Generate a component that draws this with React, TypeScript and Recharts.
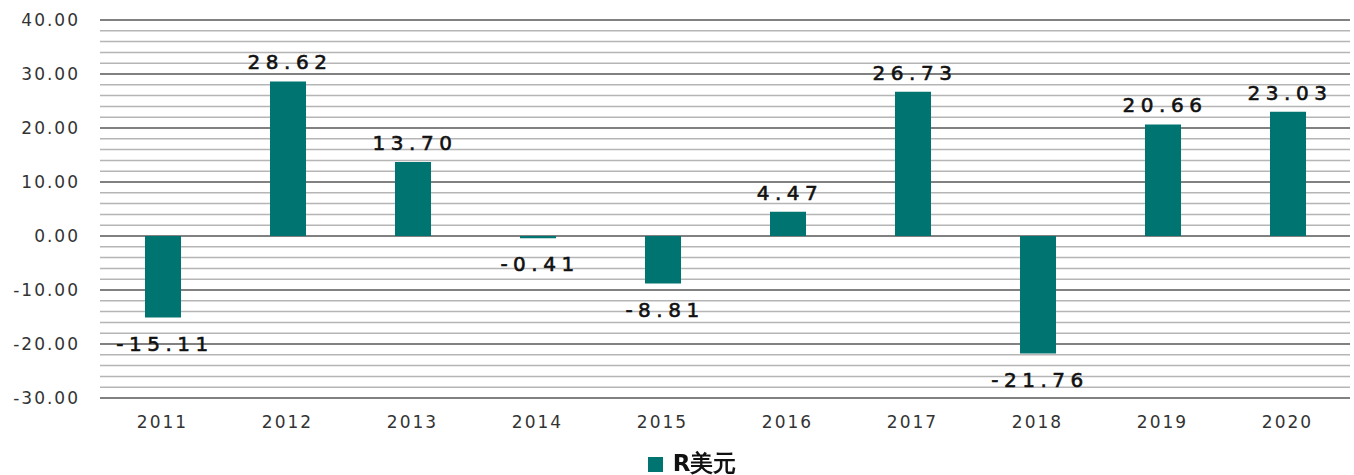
import React from "react";
import {
  BarChart,
  Bar,
  XAxis,
  YAxis,
  CartesianGrid,
  LabelList,
  Legend,
} from "recharts";

const years = ["2011", "2012", "2013", "2014", "2015", "2016", "2017", "2018", "2019", "2020"];
const usdValues = [-15.11, 28.62, 13.7, -0.41, -8.81, 4.47, 26.73, -21.76, 20.66, 23.03];
const majorTicks = [-30, -20, -10, 0, 10, 20, 30, 40];
const minorTicks = [-30, -28, -26, -24, -22, -20, -18, -16, -14, -12, -10, -8, -6, -4, -2, 0, 2, 4, 6, 8, 10, 12, 14, 16, 18, 20, 22, 24, 26, 28, 30, 32, 34, 36, 38, 40];

const data = years.map((year, i) => ({ year, value: usdValues[i] }));

const TEAL = "#007470";
const FONT = "'DejaVu Sans', sans-serif";

function ValueLabel(props: any) {
  const { x, y, width, height, value } = props;
  const top = Math.min(y, y + height);
  const bottom = Math.max(y, y + height);
  const cx = x + width / 2;
  const ty = value >= 0 ? top - 12 : bottom + 33;
  return (
    <text
      x={cx + 2}
      y={ty}
      textAnchor="middle"
      fontFamily={FONT}
      fontSize={20}
      letterSpacing={5.5}
      fill="#111"
      stroke="#111"
      strokeWidth={0.6}
    >
      {Number(value).toFixed(2)}
    </text>
  );
}

export default function App() {
  return (
    <div style={{ position: "fixed", left: 0, top: 0, width: 1354, height: 475, background: "#fff" }}>
      <BarChart
        width={1354}
        height={475}
        data={data}
        margin={{ top: 20, right: 4, bottom: 0, left: 0 }}
        barSize={36}
      >
        <CartesianGrid
          vertical={false}
          horizontalValues={minorTicks}
          stroke="#b5b5b5"
          strokeWidth={1.5}
        />
        <CartesianGrid
          vertical={false}
          horizontalValues={majorTicks}
          stroke="#6a6a6a"
          strokeWidth={1.5}
        />
        <XAxis
          dataKey="year"
          axisLine={false}
          tickLine={false}
          height={45}
          tickMargin={12}
          tick={{ fontFamily: FONT, fontSize: 17, fill: "#333", letterSpacing: 2 }}
        />
        <YAxis
          domain={[-30, 40]}
          ticks={majorTicks}
          interval={0}
          width={100}
          axisLine={false}
          tickLine={false}
          tickMargin={14}
          tickFormatter={(v: number) => v.toFixed(2)}
          tick={{ fontFamily: FONT, fontSize: 17, fill: "#333", letterSpacing: 2 }}
        />
        <Legend
          verticalAlign="bottom"
          height={32}
          iconType="square"
          iconSize={15}
          wrapperStyle={{ fontFamily: FONT, fontSize: 23, fontWeight: "bold", paddingLeft: 22, bottom: -5 }}
          formatter={(v: string) => <span style={{ color: "#111", marginLeft: 6 }}>{v}</span>}
        />
        <Bar dataKey="value" name="R美元" fill={TEAL} isAnimationActive={false}>
          <LabelList dataKey="value" content={ValueLabel} />
        </Bar>
      </BarChart>
    </div>
  );
}
